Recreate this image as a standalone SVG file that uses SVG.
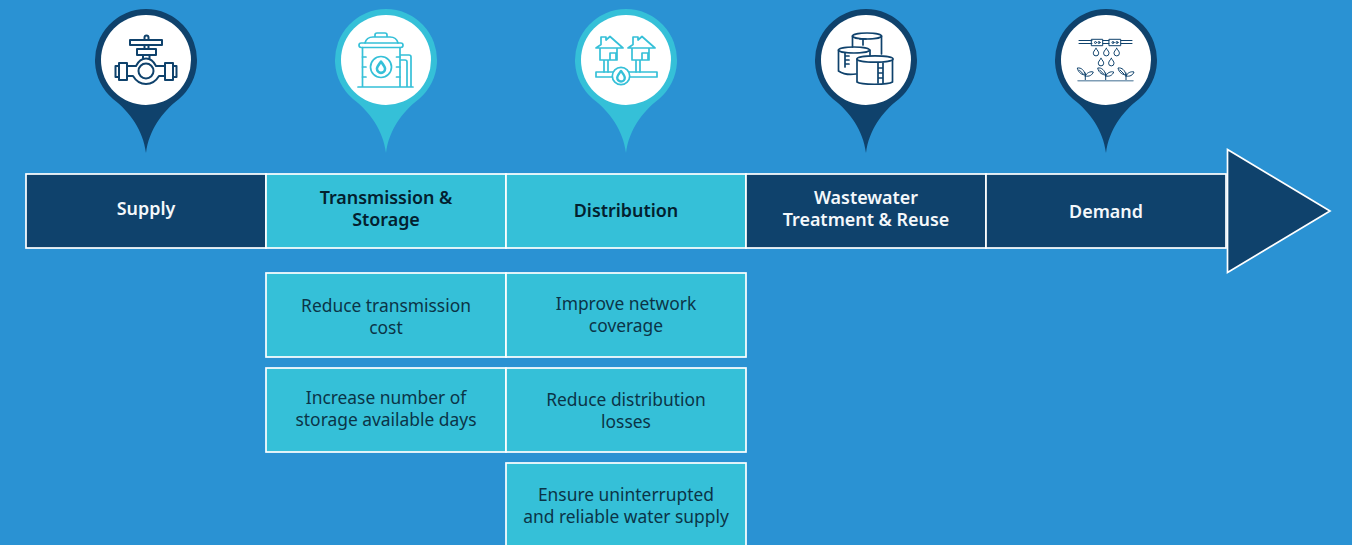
<svg xmlns="http://www.w3.org/2000/svg" width="1352" height="545" viewBox="0 0 1352 545">
<style>
text{font-family:"Noto Sans","Open Sans","Liberation Sans",sans-serif;text-anchor:middle;font-size:17.400px}
.box{stroke:#fff;stroke-width:1.700}
.dark{fill:#0f426c}
.teal{fill:#35c0d8}
text.hd{font-weight:600;font-size:17.900px}
.lt{fill:#f4f8fb}
.bk{fill:#03202f}
.sub{fill:#0b3447}
.ic{fill:none;stroke-width:1.700;stroke-linejoin:round;stroke-linecap:round}
.icd{stroke:#0f426c}
.ict{stroke:#35c0d8}
</style>
<defs>
<path id="pin" d="M0 93C-3 70-16 52-33 39A51 51 0 1 1 33 39C16 52 3 70 0 93Z"/>
<path id="drop" d="M0-3.600C1.600-1.400 2.700-.2 2.700 1.200A2.700 2.700 0 0 1-2.700 1.200C-2.700-.2-1.600-1.400 0-3.600Z"/>
<g id="plant"><path d="M0 0V-7M0-5C-3-5-7-7-8-12C-4-12.500-1-10 0-5ZM0-4C1-7 5-9 8-8C7-5 4-3 0-4ZM-6-10L-2-6"/></g>
<g id="house"><path d="M-13 48H14L1 36.500L-3 40V37H-8V44.500ZM-9 48V60H8V48M1 60V53H7V60M-5 60V72M-1 60V72"/></g>
</defs>
<rect id="background" width="1352" height="545" fill="#2a92d3"/>

<g id="node-supply">
<use href="#pin" x="146" y="60" class="dark"/>
<circle cx="146" cy="60" r="45" fill="#fff"/>
<g class="ic icd" style="stroke-width:2">
<path d="M144.500 40V37.500A2 2 0 0 1 148.500 37.500V40M130 40H162V45H130ZM144.500 45V49M148.500 45V49M137 49H156V55H137ZM143 55V58.500M149.500 55V58.500"/>
<path d="M127 66H136C138 62 142 58.500 146 58.500C150 58.500 154 62 156 66H165M127 76H133C136 81 141 84 146 84C151 84 156 81 159 76H165"/>
<circle cx="146" cy="71" r="7.500"/>
<rect x="119" y="63" width="8" height="17"/><rect x="165" y="63" width="8" height="17"/>
<rect x="115.500" y="66" width="3.500" height="11"/><rect x="173" y="66" width="3.500" height="11"/>
</g>
<rect class="box dark" x="26" y="174" width="240" height="74"/>
<text class="hd lt" x="146" y="215">Supply</text>
</g>

<g id="node-transmission">
<use href="#pin" x="386" y="60" class="teal"/>
<circle cx="386" cy="60" r="45" fill="#fff"/>
<g class="ic ict">
<path d="M375 37V35A2 2 0 0 1 377 33H385A2 2 0 0 1 387 35V37M365 43C366 39 369 37 373 37H390C394 37 397 39 398 43"/>
<rect x="359" y="43" width="44" height="4.500" rx="2.200"/>
<path d="M362.500 47.500V87M400 47.500V87M358 87H413M400 55H409A2 2 0 0 1 411 57V87M400 60H405A2 2 0 0 1 407 62V87"/>
<path d="M362.500 57H366M362.500 67H366M362.500 77H366M400 57H396.500M400 67H396.500M400 77H396.500"/>
<circle cx="381" cy="67" r="10.500"/>
<use href="#drop" transform="translate(381 67) scale(1.500)"/>
</g>
<rect class="box teal" x="266" y="174" width="240" height="74"/>
<text class="hd bk" x="386" y="204">Transmission &amp;</text>
<text class="hd bk" x="386" y="226">Storage</text>
</g>

<g id="node-distribution">
<use href="#pin" x="626" y="60" class="teal"/>
<circle cx="626" cy="60" r="45" fill="#fff"/>
<g class="ic ict">
<use href="#house" x="609"/>
<use href="#house" x="641"/>
<path d="M596 72H657V77H596Z"/>
<circle cx="621" cy="76" r="8.700" fill="#fff"/>
<use href="#drop" transform="translate(621 76) scale(1.400)"/>
</g>
<rect class="box teal" x="506" y="174" width="240" height="74"/>
<text class="hd bk" x="626" y="217">Distribution</text>
</g>

<g id="node-wastewater">
<use href="#pin" x="866" y="60" class="dark"/>
<circle cx="866" cy="60" r="45" fill="#fff"/>
<g class="ic icd">
<ellipse cx="867" cy="36" rx="14.500" ry="3"/>
<path d="M852.500 36V47M881.500 36V54M860 39H866M863 39V45"/>
<path d="M838.500 50V71C843 74 850 75 856 74M870 50V56"/>
<ellipse cx="854" cy="50" rx="15.500" ry="3"/>
<path d="M845 53V67M849 56H845M849 60H845M849 64H845"/>
<path d="M857 59V82C861 85 888 85 892.500 82V59"/>
<ellipse cx="875" cy="59" rx="18" ry="3.200" fill="#fff"/>
<path d="M878 63V83M883 63V83M878 68H883M878 73H883M878 78H883"/>
</g>
<rect class="box dark" x="746" y="174" width="240" height="74"/>
<text class="hd lt" x="866" y="204">Wastewater</text>
<text class="hd lt" x="866" y="226">Treatment &amp; Reuse</text>
</g>

<g id="node-demand">
<use href="#pin" x="1106" y="60" class="dark"/>
<circle cx="1106" cy="60" r="45" fill="#fff"/>
<g class="ic icd" style="stroke-width:1">
<path d="M1079 40.500H1092M1079 43.500H1092M1103 40.500H1109M1103 43.500H1109M1121 40.500H1132M1121 43.500H1132"/>
<rect x="1091.700" y="39.300" width="11" height="6.400"/><rect x="1109.300" y="39.300" width="11.400" height="6.400"/>
<circle cx="1095.500" cy="42.500" r="1"/><circle cx="1099" cy="42.500" r="1"/><circle cx="1113" cy="42.500" r="1"/><circle cx="1117" cy="42.500" r="1"/>
<use href="#drop" x="1096" y="52"/><use href="#drop" x="1106.300" y="52"/><use href="#drop" x="1116.700" y="52"/>
<use href="#drop" x="1101" y="62"/><use href="#drop" x="1111.300" y="62"/>
<use href="#plant" x="1085.300" y="80"/><use href="#plant" x="1105.700" y="80"/><use href="#plant" x="1126" y="80"/>
<path d="M1078 80.700H1133" stroke="#7f9db5" stroke-width="1.500"/>
</g>
<rect class="box dark" x="986" y="174" width="240" height="74"/>
<text class="hd lt" x="1106" y="218">Demand</text>
</g>

<g id="node-arrowhead">
<path class="box dark" d="M1227.500 149.500L1330 211L1227.500 272.500Z"/>
</g>

<g id="node-reduce-transmission">
<rect class="box teal" x="266" y="273" width="240" height="84"/>
<text class="sub" x="386" y="311.500">Reduce transmission</text>
<text class="sub" x="386" y="333.500">cost</text>
</g>
<g id="node-increase-storage">
<rect class="box teal" x="266" y="368" width="240" height="84"/>
<text class="sub" x="386" y="404">Increase number of</text>
<text class="sub" x="386" y="426">storage available days</text>
</g>
<g id="node-improve-coverage">
<rect class="box teal" x="506" y="273" width="240" height="84"/>
<text class="sub" x="626" y="309.500">Improve network</text>
<text class="sub" x="626" y="331.500">coverage</text>
</g>
<g id="node-reduce-losses">
<rect class="box teal" x="506" y="368" width="240" height="84"/>
<text class="sub" x="626" y="406">Reduce distribution</text>
<text class="sub" x="626" y="428">losses</text>
</g>
<g id="node-ensure-supply">
<rect class="box teal" x="506" y="463" width="240" height="90"/>
<text class="sub" x="626" y="501">Ensure uninterrupted</text>
<text class="sub" x="626" y="523">and reliable water supply</text>
</g>
</svg>
